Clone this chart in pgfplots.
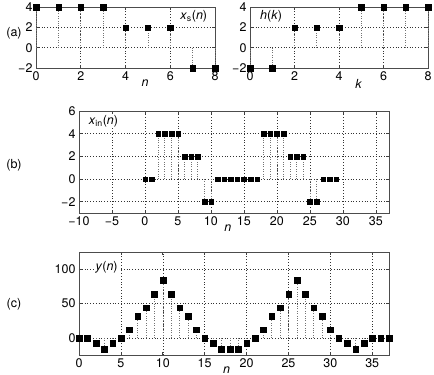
\documentclass[border=0pt]{standalone}
\usepackage{fontspec}
\setmainfont{TeX Gyre Heros}
\usepackage{pgfplots}
\pgfplotsset{compat=1.18}
\pgfplotsset{
 sig/.style={
   scale only axis, clip=false,
   axis line style={black!70, line width=0.6pt},
   grid=major,
   major grid style={black!80, line width=0.5pt, dash pattern=on 0.6pt off 2.2pt},
   tick align=inside, tick style={black!75, line width=0.6pt}, major tick length=3pt,
   ticklabel style={font=\fontsize{12.5}{14}\selectfont},
   label style={font=\fontsize{12.5}{14}\selectfont\itshape},
 },
 stem/.style={ycomb, black!55, line width=0.5pt, dash pattern=on 0.6pt off 1.8pt, no markers},
 pts/.style={only marks, mark=square*, mark size=2.7pt, black, mark options={line width=0.2pt}},
}
\begin{document}
\begin{tikzpicture}
\useasboundingbox (0,0) rectangle (434pt,-375pt);
\node[font=\fontsize{12.5}{14}\selectfont] at (14pt,-33pt) {(a)};
\node[font=\fontsize{12.5}{14}\selectfont] at (14pt,-165pt) {(b)};
\node[font=\fontsize{12.5}{14}\selectfont] at (14pt,-304pt) {(c)};
% (a) left
\begin{axis}[sig, at={(36pt,-7pt)}, anchor=north west, width=179pt, height=61pt,
  xmin=0, xmax=8, ymin=-2, ymax=4, xtick={0,2,4,6,8}, xticklabels={0,2,4,6,8},
  ytick={-2,0,2,4}, yticklabels={−2,0,2,4},
  xlabel={n}, xlabel style={at={(axis description cs:0.61,0)}, anchor=north, yshift=-8pt}]
\addplot[stem] coordinates {(0,4)(1,4)(2,4)(3,4)(4,2)(5,2)(6,2)(7,-2)(8,-2)};
\addplot[pts] coordinates {(0,4)(1,4)(2,4)(3,4)(4,2)(5,2)(6,2)(7,-2)(8,-2)};
\node[fill=white, inner sep=1pt, font=\fontsize{12.5}{14}\selectfont] at (axis cs:7.05,3.1) {\textit{x}\textsubscript{s}(\textit{n})};
\end{axis}
% (a) right
\begin{axis}[sig, at={(250pt,-7pt)}, anchor=north west, width=178pt, height=61pt,
  xmin=0, xmax=8, ymin=-2, ymax=4, xtick={0,2,4,6,8}, xticklabels={0,2,4,6,8},
  ytick={-2,0,2,4}, yticklabels={−2,0,2,4},
  xlabel={k}, xlabel style={at={(axis description cs:0.61,0)}, anchor=north, yshift=-8pt}]
\addplot[stem] coordinates {(0,-2)(1,-2)(2,2)(3,2)(4,2)(5,4)(6,4)(7,4)(8,4)};
\addplot[pts] coordinates {(0,-2)(1,-2)(2,2)(3,2)(4,2)(5,4)(6,4)(7,4)(8,4)};
\node[fill=white, inner sep=1pt, font=\fontsize{12.5}{14}\selectfont] at (axis cs:0.95,3.05) {\textit{h}(\textit{k})};
\end{axis}
% (b)
\begin{axis}[sig, at={(79pt,-111pt)}, anchor=north west, width=310pt, height=102pt,
  xmin=-10, xmax=37, ymin=-3, ymax=6, xtick={-10,-5,0,5,10,15,20,25,30,35},
  xticklabels={−10,−5,0,5,10,15,20,25,30,35},
  ytick={-2,0,2,4,6}, yticklabels={−2,0,2,4,6},
  xlabel={n}, xlabel style={at={(axis description cs:0.48,0)}, anchor=north, yshift=-8pt}]
\addplot[stem] coordinates {(0,0)(1,0)(2,4)(3,4)(4,4)(5,4)(6,2)(7,2)(8,2)(9,-2)(10,-2)(11,0)(12,0)(13,0)(14,0)(15,0)(16,0)(17,0)(18,4)(19,4)(20,4)(21,4)(22,2)(23,2)(24,2)(25,-2)(26,-2)(27,0)(28,0)(29,0)};
\addplot[pts, mark size=2.3pt] coordinates {(0,0)(1,0)(2,4)(3,4)(4,4)(5,4)(6,2)(7,2)(8,2)(9,-2)(10,-2)(11,0)(12,0)(13,0)(14,0)(15,0)(16,0)(17,0)(18,4)(19,4)(20,4)(21,4)(22,2)(23,2)(24,2)(25,-2)(26,-2)(27,0)(28,0)(29,0)};
\node[fill=white, inner sep=1pt, font=\fontsize{12.5}{14}\selectfont] at (axis cs:-6.3,5.1) {\textit{x}\textsubscript{in}(\textit{n})};
\end{axis}
% (c)
\begin{axis}[sig, at={(79pt,-252pt)}, anchor=north west, width=310pt, height=103pt,
  xmin=0, xmax=37, ymin=-25, ymax=125, xtick={0,5,10,15,20,25,30,35},
  xticklabels={0,5,10,15,20,25,30,35},
  ytick={0,50,100}, yticklabels={0,50,100},
  xlabel={n}, xlabel style={at={(axis description cs:0.476,0)}, anchor=north, yshift=-8pt}]
\addplot[stem] coordinates {(0,0)(1,0)(2,-8)(3,-16)(4,-8)(5,0)(6,12)(7,32)(8,44)(9,64)(10,84)(11,64)(12,44)(13,32)(14,12)(15,0)(16,-8)(17,-16)(18,-16)(19,-16)(20,-8)(21,0)(22,12)(23,32)(24,44)(25,64)(26,84)(27,64)(28,44)(29,32)(30,12)(31,0)(32,-8)(33,-16)(34,-8)(35,0)(36,0)(37,0)};
\addplot[pts, mark size=2.85pt] coordinates {(0,0)(1,0)(2,-8)(3,-16)(4,-8)(5,0)(6,12)(7,32)(8,44)(9,64)(10,84)(11,64)(12,44)(13,32)(14,12)(15,0)(16,-8)(17,-16)(18,-16)(19,-16)(20,-8)(21,0)(22,12)(23,32)(24,44)(25,64)(26,84)(27,64)(28,44)(29,32)(30,12)(31,0)(32,-8)(33,-16)(34,-8)(35,0)(36,0)(37,0)};
\node[fill=white, inner sep=1pt, font=\fontsize{12.5}{14}\selectfont] at (axis cs:3.3,103) {\textit{y}(\textit{n})};
\end{axis}
\end{tikzpicture}
\end{document}
